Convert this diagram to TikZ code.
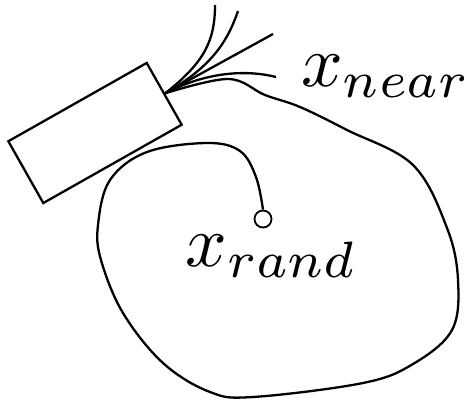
\documentclass[tikz,border=0pt]{standalone}
\usetikzlibrary{positioning}
\begin{document}
\begin{tikzpicture}[x=1pt,y=-1pt,line width=2.3pt,
	robot/.style={draw,rectangle,minimum width=159pt,minimum height=71pt,rotate=29.5},
	goal/.style={draw,circle,line width=1.8pt,minimum size=17pt,inner sep=0pt},
	biglabel/.style={scale=7.3,inner sep=0pt}]
		\useasboundingbox (0,0) rectangle (469,399);
		
		% Robot and goal
		\node[robot] (box) at (95,133) {};
		\node[goal] (xr) at (263,219) {};
		
		% Labels
		\node[biglabel] (near) at (386,76) {$x_{near}$};
		\node[biglabel] (rand) at (272,256) {$x_{rand}$};
		
		% Fan of branches
		\coordinate (t1) at (215,5);
		\coordinate (t2) at (238,11);
		\coordinate (t3) at (273,34);
		\coordinate (t4) at (276,77);
		\draw (box.east) .. controls (205,62) and (215,40) .. (t1);
		\draw (box.east) .. controls (213,66) and (228,40) .. (t2);
		\draw (box.east) -- (t3);
		\draw (box.east) .. controls (200,75) and (240,68) .. (t4);
		
		% Long branch around the region
		\draw plot[smooth,tension=0.6] coordinates {(box.east) (228,79) (265,95) (300,107) (347,130)
			(413,165) (447,228) (458,280) (452,330) (413,364) (363,383) (253,397) (210,392)
			(163,363) (123,313) (101,260) (98,225) (110,180) (147,152) (207,143) (240,151)
			(256,177) (xr.north)};

	\end{tikzpicture}
\end{document}
